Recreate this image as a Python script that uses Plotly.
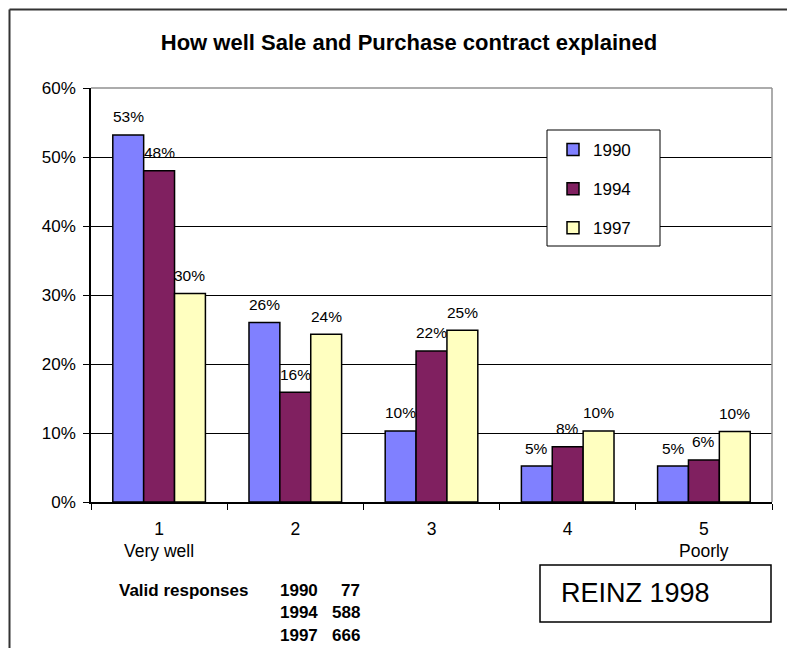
import plotly.graph_objects as go

categories = ["1", "2", "3", "4", "5"]
sublabels = ["Very well", "", "", "", "Poorly"]
series_names = ["1990", "1994", "1997"]
values_1990 = [0.532, 0.260, 0.103, 0.052, 0.052]
values_1994 = [0.480, 0.159, 0.219, 0.080, 0.061]
values_1997 = [0.302, 0.243, 0.249, 0.103, 0.102]
colors = ["#8080FF", "#802060", "#FFFFC0"]
valid_years = ["1990", "1994", "1997"]
valid_counts = [77, 588, 666]
title_text = "How well Sale and Purchase contract explained"
source_text = "REINZ 1998"

OFF = 8  # page body margin
W, H = 795 - OFF, 648 - OFF
L, R, T, B = 91, 772, 88, 502  # plot area in reference pixels
FONT = "Arial, Liberation Sans, sans-serif"


def px_x(p):
    return (p - L) / (R - L)


def px_y(p):
    return (B - p) / (B - T)


all_values = [values_1990, values_1994, values_1997]
fig = go.Figure()
for i, (name, vals) in enumerate(zip(series_names, all_values)):
    fig.add_trace(go.Bar(
        x=categories, y=vals, name=name, legendgroup=name,
        marker=dict(color=colors[i], line=dict(color="black", width=1.5)),
        hoverinfo="skip",
    ))

annotations = []
bar_px = (R - L) / len(categories) * 0.68 / 3
for i, vals in enumerate(all_values):
    for j, v in enumerate(vals):
        annotations.append(dict(
            x=j, y=v, xref="x", yref="y", text=f"{v:.0%}", showarrow=False,
            xshift=(i - 1) * bar_px, yshift=18, yanchor="middle",
            font=dict(family=FONT, size=15.5, color="black"),
        ))

for j, s in enumerate(sublabels):
    if s:
        annotations.append(dict(
            x=j, y=0, xref="x", yref="paper", text=s, showarrow=False,
            yshift=-49, yanchor="middle",
            font=dict(family=FONT, size=17.5, color="black"),
        ))

annotations.append(dict(
    x=px_x(117), y=px_y(590), xref="paper", yref="paper", text="<b>Valid responses</b>",
    showarrow=False, xanchor="left", yanchor="middle",
    font=dict(family=FONT, size=17, color="black"),
))
for k, (yr, cnt) in enumerate(zip(valid_years, valid_counts)):
    yy = px_y(590 + k * 22.5)
    annotations.append(dict(
        x=px_x(278), y=yy, xref="paper", yref="paper", text=f"<b>{yr}</b>",
        showarrow=False, xanchor="left", yanchor="middle",
        font=dict(family=FONT, size=17, color="black"),
    ))
    annotations.append(dict(
        x=px_x(362), y=yy, xref="paper", yref="paper", text=f"<b>{cnt}</b>",
        showarrow=False, xanchor="right", yanchor="middle",
        font=dict(family=FONT, size=17, color="black"),
    ))

annotations.append(dict(
    x=px_x(559), y=px_y(593), xref="paper", yref="paper", text=source_text,
    showarrow=False, xanchor="left", yanchor="middle",
    font=dict(family=FONT, size=27, color="black"),
))

shapes = [
    # outer frame
    dict(type="line", xref="paper", yref="paper", x0=px_x(9.5), x1=px_x(9.5),
         y0=px_y(9.5), y1=px_y(660), line=dict(color="#333333", width=2)),
    dict(type="line", xref="paper", yref="paper", x0=px_x(9.5), x1=px_x(800),
         y0=px_y(9.5), y1=px_y(9.5), line=dict(color="#333333", width=2)),
    # plot-area top/right border (gray)
    dict(type="line", xref="paper", yref="paper", x0=0, x1=1, y0=1, y1=1,
         line=dict(color="#909090", width=1.5), layer="above"),
    dict(type="line", xref="paper", yref="paper", x0=1, x1=1, y0=0, y1=1,
         line=dict(color="#909090", width=1.5), layer="above"),
    # legend box
    dict(type="rect", xref="paper", yref="paper", x0=px_x(547), x1=px_x(660),
         y0=px_y(246), y1=px_y(130), line=dict(color="black", width=1),
         fillcolor="white", layer="above"),
    # source box
    dict(type="rect", xref="paper", yref="paper", x0=px_x(540), x1=px_x(771),
         y0=px_y(622), y1=px_y(565), line=dict(color="black", width=1.5),
         fillcolor="white"),
]

fig.update_layout(
    width=W, height=H,
    margin=dict(l=L - OFF, r=795 - R, t=T - OFF, b=648 - B),
    paper_bgcolor="white", plot_bgcolor="white",
    barmode="group", bargap=0.32, bargroupgap=0,
    title=dict(text=f"<b>{title_text}</b>", x=(409 - OFF) / W, xanchor="center",
               y=1 - (42 - OFF) / H, yanchor="middle",
               font=dict(family=FONT, size=22, color="black")),
    font=dict(family=FONT, size=15, color="black"),
    showlegend=True,
    legend=dict(x=px_x(553), y=px_y(132), xanchor="left", yanchor="top",
                bgcolor="rgba(0,0,0,0)", borderwidth=0,
                traceorder="grouped", tracegroupgap=14,
                font=dict(family=FONT, size=17, color="black")),
    xaxis=dict(type="category", range=[-0.5, len(categories) - 0.5],
               tickson="boundaries", ticks="outside", ticklen=6,
               tickcolor="black", tickwidth=1, showline=True, linecolor="black",
               linewidth=1.5, showgrid=False, ticklabelstandoff=10,
               tickfont=dict(family=FONT, size=17.5, color="black")),
    yaxis=dict(range=[0, 0.6], dtick=0.1, tick0=0, tickformat=".0%",
               ticks="outside", ticklen=6, tickcolor="black", showline=True,
               linecolor="black", linewidth=1.5, showgrid=True,
               gridcolor="black", gridwidth=1, zeroline=False,
               ticklabelstandoff=4,
               tickfont=dict(family=FONT, size=17, color="black")),
    annotations=annotations, shapes=shapes,
)

fig.write_html("out.html")
